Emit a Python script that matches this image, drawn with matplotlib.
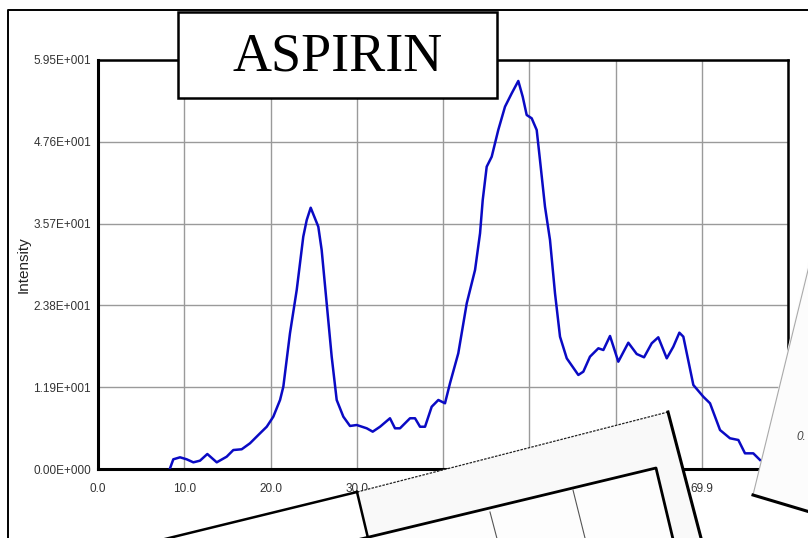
import matplotlib.pyplot as plt
from matplotlib.patches import Polygon, Rectangle
import numpy as np

# retention time (min) and detector intensity
time = [8.34, 8.72, 9.50, 10.27, 11.04, 11.81, 12.66, 13.75, 14.90, 15.67,
        16.64, 17.60, 18.76, 19.54, 20.30, 21.08, 21.46, 22.23, 23.01, 23.77,
        24.17, 24.63, 25.51, 25.90, 26.48, 27.06, 27.64, 28.41, 29.18, 29.96,
        31.12, 31.81, 32.66, 33.81, 34.39, 34.97, 36.13, 36.71, 37.29, 37.87,
        38.64, 39.41, 40.18, 40.76, 41.72, 42.70, 43.66, 44.24, 44.55, 45.01,
        45.59, 46.35, 47.13, 47.91, 48.67, 49.18, 49.64, 50.22, 50.80, 51.18,
        51.76, 52.34, 52.92, 53.50, 54.28, 55.62, 56.20, 56.97, 57.94, 58.52,
        59.29, 60.25, 61.41, 62.38, 63.23, 64.12, 64.88, 65.86, 66.62, 67.32,
        67.78, 68.94, 70.09, 70.87, 72.03, 73.18, 74.15, 74.92, 75.88, 76.66]
intensity = [0.10, 1.41, 1.70, 1.41, 0.97, 1.21, 2.18, 0.97, 1.79, 2.76,
             2.87, 3.74, 5.19, 6.15, 7.61, 10.04, 11.97, 19.74, 26.04, 33.80,
             36.22, 38.01, 35.25, 31.86, 24.11, 16.34, 10.04, 7.61, 6.26, 6.40,
             5.92, 5.43, 6.15, 7.38, 5.92, 5.92, 7.38, 7.38, 6.15, 6.15,
             9.06, 10.04, 9.56, 12.47, 16.83, 24.11, 28.95, 34.29, 39.13, 43.98,
             45.43, 49.32, 52.71, 54.66, 56.45, 54.16, 51.50, 51.02, 49.32, 44.95,
             38.16, 33.32, 25.56, 19.25, 16.10, 13.68, 14.16, 16.34, 17.56, 17.31,
             19.35, 15.61, 18.37, 16.73, 16.25, 18.29, 19.16, 16.10, 17.79, 19.83,
             19.25, 12.22, 10.52, 9.56, 5.67, 4.47, 4.22, 2.28, 2.28, 1.31]

x_max = 79.9
y_max = 59.5
x_ticks = np.linspace(0, x_max, 9)
x_labels = ['0.0', '10.0', '20.0', '30.0', '40.0', '49.9', '59.9', '69.9', '79.9']
y_ticks = np.linspace(0, y_max, 6)
y_labels = ['0.00E+000', '1.19E+001', '2.38E+001', '3.57E+001', '4.76E+001', '5.95E+001']

W, H = 808, 538
fig = plt.figure(figsize=(W / 100, H / 100), dpi=100)
fig.patch.set_facecolor('white')

ax = fig.add_axes([98 / W, (H - 469) / H, 690 / W, 409 / H])
ax.plot(time, intensity, color='#0a0ac4', linewidth=1.8, zorder=3)
ax.set_xlim(0, x_max)
ax.set_ylim(0, y_max)
ax.set_xticks(x_ticks)
ax.set_xticklabels(x_labels)
ax.set_yticks(y_ticks)
ax.set_yticklabels(y_labels)
ax.tick_params(length=0, labelsize=8.5, labelcolor='#333333')
ax.tick_params(axis='x', pad=10)
ax.tick_params(axis='y', pad=5)
for lab in ax.get_xticklabels() + ax.get_yticklabels():
    lab.set_family('Liberation Sans')
ax.grid(True, color='#9a9a9a', linewidth=1.0)
ax.set_axisbelow(True)
for side in ['left', 'bottom']:
    ax.spines[side].set_linewidth(2.2)
for side in ['top', 'right']:
    ax.spines[side].set_linewidth(1.8)
ax.set_ylabel('Intensity', fontsize=11, family='Liberation Sans', color='#222222')
ax.yaxis.set_label_coords(-0.097, 0.5)

# overlay in pixel coordinates for the frame, title box and stacked sheets
ov = fig.add_axes([0, 0, 1, 1], zorder=5)
ov.set_xlim(0, W)
ov.set_ylim(H, 0)
ov.axis('off')
ov.patch.set_alpha(0)

ov.plot([8, 8, W + 5], [H + 5, 10, 10], color='black', linewidth=1.4)

ov.add_patch(Rectangle((178, 12), 319, 86, facecolor='white', edgecolor='black',
                       linewidth=1.8))
ov.text(337.5, 57, 'ASPIRIN', fontsize=39, family='Liberation Serif',
        ha='center', va='center')

# back sheet, only its top edge shows
ov.add_patch(Polygon([(120, 550), (357, 492), (380, 600), (100, 600)],
                     closed=True, facecolor='white', edgecolor='none'))
ov.plot([120, 357], [550, 492], color='black', linewidth=1.8)

# front sheet with a small chart printed on it
sheet = [(357, 492), (668, 412), (712, 580), (378, 580)]
ov.add_patch(Polygon(sheet, closed=True, facecolor='#f9f9f9', edgecolor='none'))
ov.plot([357, 668], [492, 412], color='#222222', linewidth=0.9, linestyle=(0, (2, 1)))
ov.plot([668, 712], [412, 580], color='black', linewidth=2.2)
ov.plot([357, 378], [492, 580], color='black', linewidth=1.8)
inner = [(340, 544), (656, 468), (678, 560), (360, 600)]
ov.add_patch(Polygon(inner, closed=True, facecolor='#fdfdfd', edgecolor='none'))
ov.plot([340, 656, 678], [544, 468, 560], color='black', linewidth=2.0)
ov.plot([490, 500], [512, 550], color='#555555', linewidth=0.8)
ov.plot([573, 588], [490, 550], color='#555555', linewidth=0.8)

# sheet on the right edge
right_sheet = [(808, 262), (753, 495), (830, 520), (830, 262)]
ov.add_patch(Polygon(right_sheet, closed=True, facecolor='#fcfcfc', edgecolor='none'))
ov.plot([810, 753], [262, 495], color='#aaaaaa', linewidth=0.8)
ov.plot([753, 830], [495, 518], color='black', linewidth=2.2)
ov.text(796, 437, '0.', fontsize=8.5, style='italic', color='#444444',
        family='Liberation Sans', va='center')

fig.savefig('out.png', dpi=100)
